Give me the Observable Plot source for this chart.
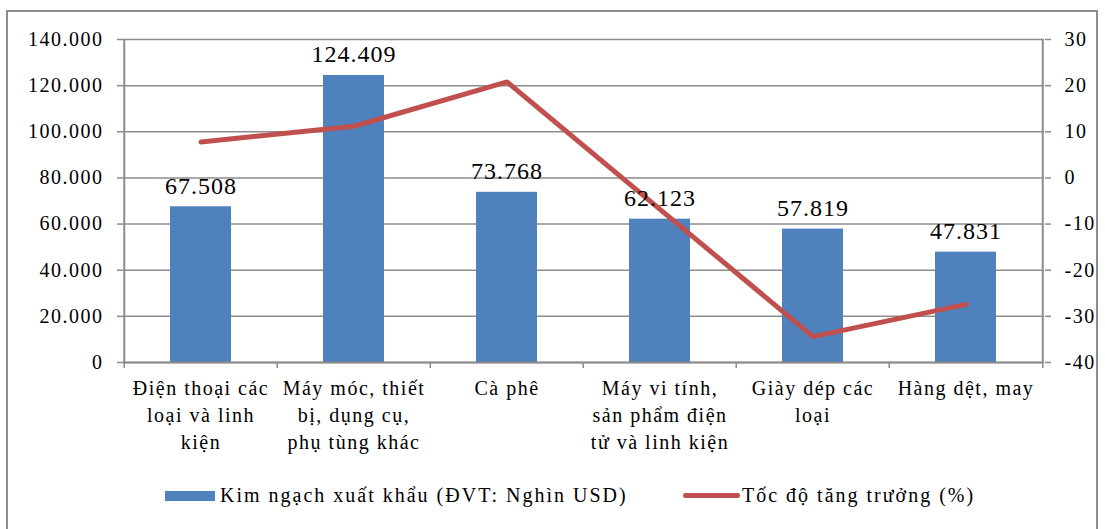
<!DOCTYPE html>
<html>
<head>
<meta charset="utf-8">
<script src="https://cdn.jsdelivr.net/npm/d3@7"></script>
<script src="https://cdn.jsdelivr.net/npm/@observablehq/plot@0.6"></script>
<style>
  html, body { margin: 0; padding: 0; background: #fff; }
  #wrap { position: relative; width: 1105px; height: 529px; overflow: hidden; font-family: "Liberation Serif", "Times New Roman", serif; }
  #frame { position: absolute; left: 6px; top: 10px; width: 1092px; height: 560px; border: 2px solid #8c8c8c; box-sizing: border-box; }
  #chart { position: absolute; left: 0; top: 0; }
  #chart svg text { letter-spacing: 1.5px; }
  #chart svg g.datalabel text { letter-spacing: 1px; }
  .lg { position: absolute; top: 484px; display: flex; align-items: center; font-size: 20px; letter-spacing: 2px; color: #000; white-space: nowrap; }
  .sw-bar { width: 50px; height: 10px; background: #4f81bd; margin-right: 5px; }
  .sw-line { width: 57px; height: 5px; background: #c0504d; border-radius: 2.5px; margin-right: 2px; }
</style>
</head>
<body>
<div id="wrap">
  <div id="frame"></div>
  <div id="chart"></div>
  <div class="lg" style="left:165px"><div class="sw-bar"></div><span id="lg1"></span></div>
  <div class="lg" style="left:683px"><div class="sw-line"></div><span id="lg2"></span></div>
</div>
<script>
// ---- data ----
const categories = [
  "Điện thoại các loại và linh kiện",
  "Máy móc, thiết bị, dụng cụ, phụ tùng khác",
  "Cà phê",
  "Máy vi tính, sản phẩm điện tử và linh kiện",
  "Giày dép các loại",
  "Hàng dệt, may"
];
const categoryLabels = [
  "Điện thoại các\nloại và linh\nkiện",
  "Máy móc, thiết\nbị, dụng cụ,\nphụ tùng khác",
  "Cà phê",
  "Máy vi tính,\nsản phẩm điện\ntử và linh kiện",
  "Giày dép các\nloại",
  "Hàng dệt, may"
];
const exportValue = [67508, 124409, 73768, 62123, 57819, 47831];
const growthRate = [7.8, 11.2, 20.8, -6.8, -34.4, -27.4];
const leftTicks = [0, 20000, 40000, 60000, 80000, 100000, 120000, 140000];
const rightTicks = [-40, -30, -20, -10, 0, 10, 20, 30];
const seriesNames = ["Kim ngạch xuất khẩu (ĐVT: Nghìn USD)", "Tốc độ tăng trưởng (%)"];

// ---- build ----
const rows = categories.map((c, i) => ({cat: c, label: categoryLabels[i], value: exportValue[i], growth: growthRate[i]}));
const toLeft = g => (g + 40) * 2000;     // right axis [-40,30] -> left axis [0,140000]
const fromLeft = v => v / 2000 - 40;
const fmtThousands = d => d === 0 ? "0" : d3.format(",")(d).replace(/,/g, ".");

const W = 1105, H = 470, mL = 123, mR = 61, mT = 39, mB = 108;
const halfBand = (W - mL - mR) / categories.length / 2;

const gray = "#8c8c8c";
const FONT = "'Liberation Serif', 'Times New Roman', serif";
const chart = Plot.plot({
  width: W, height: H,
  marginLeft: mL, marginRight: mR, marginTop: mT, marginBottom: mB,
  style: {fontFamily: FONT, fontSize: "20px", color: "#000", background: "transparent"},
  x: {domain: categories, paddingInner: 0.6, paddingOuter: 0.3, axis: null},
  y: {domain: [0, 140000], axis: null},
  marks: [
    Plot.gridY(leftTicks, {stroke: gray, strokeOpacity: 1, strokeWidth: 1.5}),
    Plot.barY(rows, {x: "cat", y: "value", fill: "#4f81bd"}),
    Plot.ruleX([categories[0]], {x: d => d, dx: -halfBand, stroke: gray, strokeWidth: 2}),
    Plot.ruleX([categories[categories.length - 1]], {x: d => d, dx: halfBand, stroke: gray, strokeWidth: 2}),
    Plot.ruleY([0], {stroke: gray, strokeWidth: 2}),
    Plot.ruleX(categories, {x: d => d, dx: -halfBand, y1: 0, y2: 0, insetBottom: -6, stroke: gray, strokeWidth: 1.5}),
    Plot.ruleX([categories[categories.length - 1]], {x: d => d, dx: halfBand, y1: 0, y2: 0, insetBottom: -6, stroke: gray, strokeWidth: 1.5}),
    Plot.axisY({ticks: leftTicks, tickFormat: fmtThousands, tickSize: 6, tickPadding: 14, label: null, stroke: gray, strokeWidth: 1.5, fill: "#000", fontSize: 20}),
    Plot.axisY({anchor: "right", ticks: rightTicks.map(toLeft), tickFormat: d => String(fromLeft(d)), tickSize: 6, tickPadding: 14, label: null, stroke: gray, strokeWidth: 1.5, fill: "#000", fontSize: 20}),
    Plot.line(rows, {x: "cat", y: d => toLeft(d.growth), stroke: "#c0504d", strokeWidth: 5, strokeLinejoin: "miter"}),
    Plot.text(rows, {x: "cat", y: "value", text: d => fmtThousands(d.value), lineAnchor: "bottom", dy: -13, fontSize: 24, fill: "#000", className: "datalabel"}),
    Plot.text(rows, {x: "cat", y: () => 0, text: "label", lineAnchor: "top", dy: 14, lineHeight: 1.33, fontSize: 20, fill: "#000"})
  ]
});
document.getElementById("chart").appendChild(chart);
document.getElementById("lg1").textContent = seriesNames[0];
document.getElementById("lg2").textContent = seriesNames[1];
</script>
</body>
</html>
